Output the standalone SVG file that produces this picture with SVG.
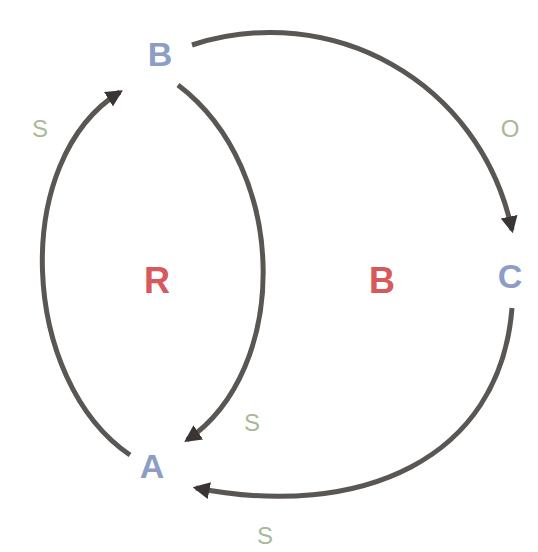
<svg xmlns="http://www.w3.org/2000/svg" width="538" height="552" viewBox="0 0 538 552">
<style>
.node{font-family:"Liberation Sans",Arial,sans-serif;font-size:34px;font-weight:bold;fill:#8c9ec4;text-anchor:middle;dominant-baseline:central}
.region{font-family:"Liberation Sans",Arial,sans-serif;font-size:36px;font-weight:bold;fill:#d8585c;text-anchor:middle;dominant-baseline:central}
.elabel{font-family:"Liberation Sans",Arial,sans-serif;font-size:24px;fill:#a8b898;text-anchor:middle;dominant-baseline:central}
.edge{fill:none;stroke:#5a5654;stroke-width:5;marker-end:url(#arr)}
</style>
<defs>
<marker id="arr" markerUnits="userSpaceOnUse" markerWidth="17" markerHeight="17" viewBox="0 0 10 10" refX="8" refY="5" orient="auto">
<path d="M0,0 L10,5 L0,10 z" fill="#3a3432"/>
</marker>
</defs>
<rect width="538" height="552" fill="#ffffff"/>
<g id="connectors">
<path class="edge" d="M 130 455 C 20 380, 10 160, 120 92"/>
<path class="edge" d="M 178 85 C 290 170, 290 370, 187 440"/>
<path class="edge" d="M 192 45 C 330 0, 480 80, 512 230"/>
<path class="edge" d="M 512 308 C 500 460, 360 520, 196 488"/>
</g>
<g id="node-B"><text class="node" x="160" y="54">B</text></g>
<g id="node-C"><text class="node" x="510" y="276">C</text></g>
<g id="node-A"><text class="node" x="152" y="466">A</text></g>
<g id="region-R"><text class="region" x="157" y="280">R</text></g>
<g id="region-B"><text class="region" x="382" y="280">B</text></g>
<g id="edge-labels">
<text class="elabel" x="40" y="128">S</text>
<text class="elabel" x="510" y="128">O</text>
<text class="elabel" x="252" y="422">S</text>
<text class="elabel" x="265" y="535">S</text>
</g>
</svg>
